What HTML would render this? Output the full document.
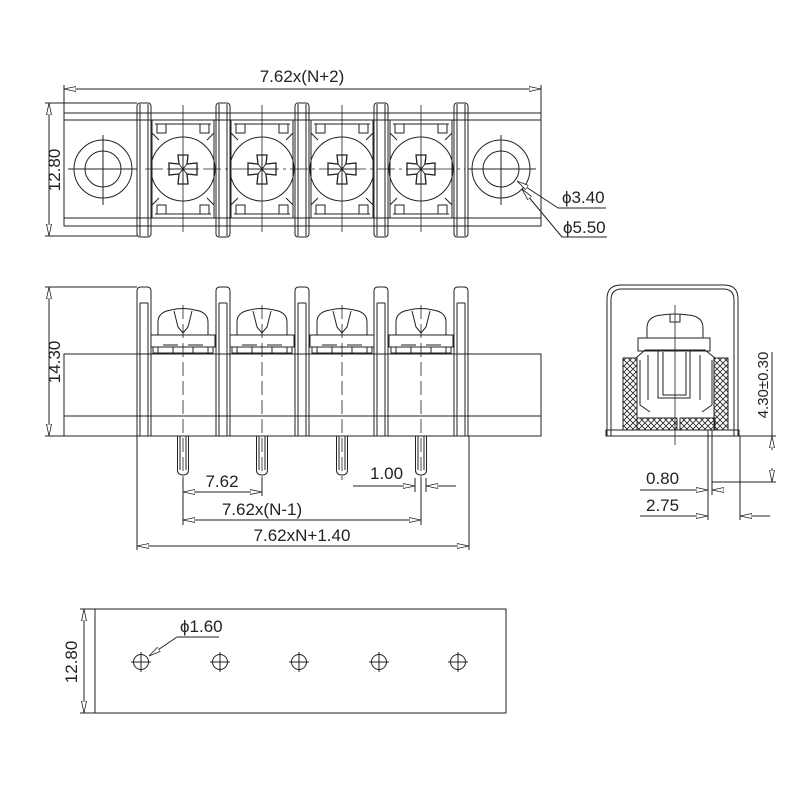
<!DOCTYPE html>
<html><head><meta charset="utf-8"><style>
html,body{margin:0;padding:0;background:#fff}
svg{display:block}
text{font-family:"Liberation Sans Narrow","Liberation Sans",sans-serif;font-size:17px;fill:#222}
</style></head><body>
<svg width="800" height="800" viewBox="0 0 800 800" xmlns="http://www.w3.org/2000/svg">
<defs>
<pattern id="hatch" width="6" height="6" patternUnits="userSpaceOnUse">
<path d="M0 0L6 6M6 0L0 6" stroke="#222" stroke-width="0.8"/>
</pattern>
<marker id="a" viewBox="0 0 12 6" refX="12" refY="3" markerWidth="12" markerHeight="6" orient="auto-start-reverse" markerUnits="userSpaceOnUse">
<path d="M0 0.5L12 3L0 5.5Z" fill="#fff" stroke="#222" stroke-width="0.8"/>
</marker>
<g id="tcell" fill="none" stroke="#222" stroke-width="1">
<rect x="-31" y="120" width="62" height="98"/>
<path d="M-28 124H28M-28 214H28"/>
<rect x="-26" y="124" width="9" height="9"/><rect x="17" y="124" width="9" height="9"/>
<rect x="-26" y="205" width="9" height="9"/><rect x="17" y="205" width="9" height="9"/>
<path d="M-31 133L-24 140M31 133L24 140M-31 205L-24 198M31 205L24 198"/>
<circle cx="0" cy="169" r="32"/>
<path d="M-5 155H5L4 164L14 163V175L4 174L5 184H-5L-4 174L-14 175V163L-4 164Z" stroke-width="1.3"/>
<path d="M-4 164L4 174M4 164L-4 174M0 155V184M-14 169H14"/>
<path d="M0 105V232" stroke-width="0.8"/>
</g>
<g id="barrier" fill="none" stroke="#222" stroke-width="1">
<rect x="0" y="103" width="14" height="134" rx="3"/>
<path d="M3 104V236M11 104V236"/>
</g>
<g id="fbarrier" fill="none" stroke="#222" stroke-width="1">
<path d="M0 436V291Q0 287 4 287H10Q14 287 14 291V436Z"/>
<path d="M3 303H11M3 303V436M11 303V436"/>
</g>
<g id="fcell" fill="none" stroke="#222" stroke-width="1">
<path d="M-25 335V322Q-25 312 -12 310Q0 307 12 310Q25 312 25 322V335"/>
<path d="M-9 311L-5 327L0 333L5 327L9 311"/>
<rect x="-32" y="335" width="64" height="12"/>
<rect x="-30" y="347" width="60" height="6"/>
<path d="M-25 347V353M-10 347V353M10 347V353M25 347V353M-20 345H-5M5 345H20"/>
<path d="M-5.5 436V470Q-5.5 475 0 475Q5.5 475 5.5 470V436M-3 436V470M3 436V470"/>
<path d="M0 305V480" stroke-dasharray="14 5" stroke-width="0.8"/>
</g>
</defs>

<!-- TOP VIEW -->
<g fill="none" stroke="#222" stroke-width="1">
<rect x="64" y="113" width="477" height="113"/>
<path d="M64 120H541M64 218H541"/>
<path d="M45 103H137M45 236H137"/>
<path d="M64 113V85M541 113V85"/>
<path d="M49 103V236" marker-start="url(#a)" marker-end="url(#a)"/>
<path d="M64 89H541" marker-start="url(#a)" marker-end="url(#a)"/>
<circle cx="103" cy="169" r="29"/><circle cx="103" cy="169" r="18"/>
<circle cx="501" cy="169" r="29"/><circle cx="501" cy="169" r="18"/>
<path d="M103 135V205M68 169H137M501 135V205M468 169H536"/>
<path d="M145 169H465" stroke-dasharray="18 4 3 4" stroke-width="0.8"/>
<path d="M558 208L517 181" marker-end="url(#a)"/><path d="M558 208H606"/>
<path d="M562 237L522 189" marker-end="url(#a)"/><path d="M562 237H607"/>
</g>
<use href="#tcell" x="183"/><use href="#tcell" x="262"/><use href="#tcell" x="342"/><use href="#tcell" x="421"/>
<use href="#barrier" x="137"/><use href="#barrier" x="216"/><use href="#barrier" x="295"/><use href="#barrier" x="374"/><use href="#barrier" x="454"/>
<text x="302" y="82" text-anchor="middle">7.62x(N+2)</text>
<text transform="translate(60,170) rotate(-90)" text-anchor="middle">12.80</text>
<text x="562" y="203">ϕ3.40</text>
<text x="563" y="233">ϕ5.50</text>

<!-- FRONT VIEW -->
<g fill="none" stroke="#222" stroke-width="1">
<rect x="64" y="354" width="477" height="82"/>
<path d="M64 416H541"/>
<path d="M45 287H137M45 436H64"/>
<path d="M49 287V436" marker-start="url(#a)" marker-end="url(#a)"/>
<path d="M137 436V550M469 436V550M183 478V525M262 478V496M421 478V525"/>
<path d="M183 492H262" marker-start="url(#a)" marker-end="url(#a)"/>
<path d="M183 520H421" marker-start="url(#a)" marker-end="url(#a)"/>
<path d="M137 546H469" marker-start="url(#a)" marker-end="url(#a)"/>
<path d="M353 486H415" marker-end="url(#a)"/><path d="M456 486H426" marker-end="url(#a)"/>
<path d="M415 478V492M426 478V492"/>
</g>
<use href="#fcell" x="183"/><use href="#fcell" x="262"/><use href="#fcell" x="342"/><use href="#fcell" x="421"/>
<use href="#fbarrier" x="137"/><use href="#fbarrier" x="216"/><use href="#fbarrier" x="295"/><use href="#fbarrier" x="374"/><use href="#fbarrier" x="454"/>
<text transform="translate(60,362) rotate(-90)" text-anchor="middle">14.30</text>
<text x="222" y="487" text-anchor="middle">7.62</text>
<text x="370" y="479">1.00</text>
<text x="262" y="515" text-anchor="middle">7.62x(N-1)</text>
<text x="302" y="541" text-anchor="middle">7.62xN+1.40</text>

<!-- SIDE VIEW -->
<g fill="none" stroke="#222" stroke-width="1">
<path d="M607 436V299Q607 285 621 285H724Q738 285 738 299V436"/>
<path d="M611 436V300Q611 289 622 289H723Q734 289 734 300V436"/>
<rect x="606" y="430" width="133" height="6"/>
<path d="M647 338V328Q647 316 662 315Q675 313 688 315Q703 316 703 328V338"/>
<path d="M670 314V322H680V314"/>
<rect x="638" y="338" width="72" height="13"/>
<rect x="623" y="358" width="14" height="72" fill="url(#hatch)"/>
<rect x="714" y="358" width="14" height="72" fill="url(#hatch)"/>
<rect x="637" y="418" width="40" height="12" fill="url(#hatch)"/>
<rect x="680" y="418" width="35" height="12" fill="url(#hatch)"/>
<path d="M636 358L645 350H705L715 358" />
<path d="M640 360V405L650 412M712 360V405L702 412"/>
<path d="M658 351V398H690V351M663 352V395H686V352M648 355V400M700 355V400"/>
<path d="M675 305V445" stroke-width="0.8"/>
<path d="M708 430V520M712 430V495M740 436V520"/>
<path d="M738 436H776M712 482H776"/>
<path d="M772 352V436" /><path d="M772 450V436" marker-end="url(#a)"/><path d="M772 468V482" marker-end="url(#a)"/>
<path d="M640 490H696" /><path d="M696 490H708" marker-end="url(#a)"/><path d="M724 490H712" marker-end="url(#a)"/>
<path d="M640 516H696"/><path d="M696 516H708" marker-end="url(#a)"/><path d="M756 516H740" marker-end="url(#a)"/><path d="M756 516H770"/>
</g>
<text transform="translate(768,385) rotate(-90)" text-anchor="middle" style="font-size:15px">4.30±0.30</text>
<text x="646" y="484">0.80</text>
<text x="646" y="511">2.75</text>

<!-- BOTTOM VIEW -->
<g fill="none" stroke="#222" stroke-width="1">
<rect x="95" y="609" width="411" height="104"/>
<path d="M80 609H95M80 713H95"/>
<path d="M84 609V713" marker-start="url(#a)" marker-end="url(#a)"/>
<g id="hole"><circle cx="141" cy="662" r="7.5"/><path d="M131 662H151M141 652V672"/></g>
<use href="#hole" x="79"/><use href="#hole" x="158"/><use href="#hole" x="238"/><use href="#hole" x="317"/>
<path d="M177 637L149 656" marker-end="url(#a)"/><path d="M177 637H219"/>
</g>
<text transform="translate(77,662) rotate(-90)" text-anchor="middle">12.80</text>
<text x="180" y="632">ϕ1.60</text>
</svg>
</body></html>
